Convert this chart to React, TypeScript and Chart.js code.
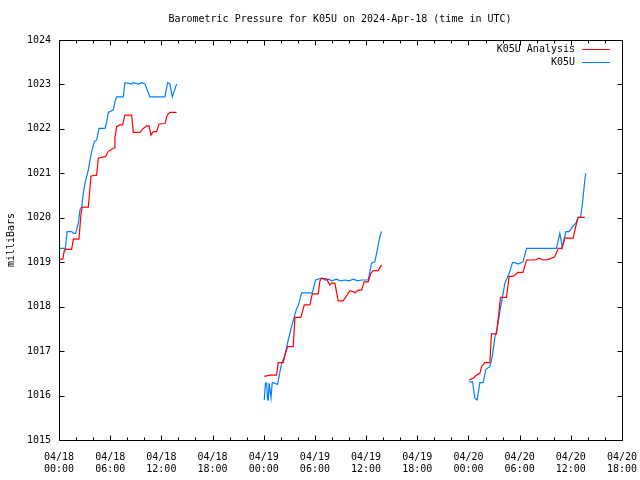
import React, { useEffect, useRef } from "react";
import { Chart, registerables } from "chart.js";

Chart.register(...registerables);

// ---- data (hours since 2024-04-18 00:00 UTC, pressure in mbar) ----
const analysisA_t = [0, 0.45, 0.6, 0.7, 1.48, 1.68, 2.34, 2.5, 2.58, 2.73, 3.44, 3.6, 3.75, 4.41, 4.61, 5.47, 5.78, 6.17, 6.45, 6.56, 6.76, 7.15, 7.46, 7.73, 8.52, 8.71, 9.49, 9.88, 10.27, 10.55, 10.78, 11.05, 11.45, 11.72, 12.42, 12.69, 13.0, 13.79];
const analysisA_p = [1019.07, 1019.07, 1019.25, 1019.29, 1019.29, 1019.52, 1019.52, 1019.9, 1020.09, 1020.24, 1020.24, 1020.6, 1020.94, 1020.96, 1021.34, 1021.38, 1021.49, 1021.54, 1021.57, 1021.79, 1022.05, 1022.09, 1022.09, 1022.31, 1022.31, 1021.92, 1021.92, 1022.01, 1022.07, 1022.07, 1021.86, 1021.94, 1021.94, 1022.11, 1022.12, 1022.31, 1022.37, 1022.37];
const analysisB_t = [24.06, 24.73, 25.51, 25.7, 26.29, 26.49, 26.8, 27.46, 27.66, 28.36, 28.75, 29.41, 29.69, 30.39, 30.59, 30.78, 31.37, 31.76, 31.95, 32.34, 32.73, 33.32, 34.1, 34.49, 34.69, 35.08, 35.47, 35.78, 36.25, 36.56, 36.83, 37.42, 37.81];
const analysisB_p = [1016.43, 1016.46, 1016.46, 1016.74, 1016.74, 1016.91, 1017.1, 1017.1, 1017.76, 1017.76, 1018.04, 1018.04, 1018.29, 1018.29, 1018.58, 1018.64, 1018.62, 1018.49, 1018.53, 1018.53, 1018.13, 1018.13, 1018.36, 1018.34, 1018.31, 1018.37, 1018.37, 1018.56, 1018.56, 1018.75, 1018.81, 1018.81, 1018.94];
const analysisC_t = [48.09, 48.55, 48.95, 49.34, 49.53, 49.92, 50.51, 50.7, 51.29, 51.76, 52.46, 52.77, 53.24, 53.82, 54.4, 54.8, 55.78, 56.29, 56.76, 57.34, 58.13, 58.52, 58.91, 59.3, 60.27, 60.59, 60.86, 61.64];
const analysisC_p = [1016.35, 1016.39, 1016.46, 1016.5, 1016.65, 1016.74, 1016.74, 1017.39, 1017.39, 1018.21, 1018.21, 1018.68, 1018.68, 1018.77, 1018.77, 1019.05, 1019.05, 1019.09, 1019.05, 1019.06, 1019.12, 1019.31, 1019.31, 1019.54, 1019.54, 1019.82, 1020.01, 1020.01];

const obsA_t = [0, 0.75, 0.95, 1.5, 1.7, 1.95, 2.27, 2.46, 2.66, 2.85, 3.05, 3.44, 3.63, 3.83, 4.14, 4.41, 4.69, 5.39, 5.59, 5.78, 6.37, 6.56, 6.76, 7.54, 7.73, 8.52, 8.71, 9.3, 9.69, 10.08, 10.66, 12.42, 12.73, 13.0, 13.28, 13.79];
const obsA_p = [1019.31, 1019.31, 1019.69, 1019.69, 1019.65, 1019.65, 1019.88, 1020.18, 1020.25, 1020.55, 1020.78, 1021.08, 1021.3, 1021.49, 1021.71, 1021.75, 1022.01, 1022.01, 1022.16, 1022.37, 1022.43, 1022.61, 1022.72, 1022.72, 1023.04, 1023.01, 1023.04, 1023.01, 1023.04, 1023.01, 1022.72, 1022.72, 1023.04, 1023.01, 1022.72, 1023.01];
const obsB_t = [24.06, 24.2, 24.34, 24.45, 24.53, 24.63, 24.73, 24.85, 25.0, 25.12, 25.63, 25.9, 26.1, 26.49, 26.87, 27.26, 27.58, 27.85, 28.05, 28.44, 29.69, 30.08, 30.78, 31.2, 31.6, 32.0, 32.5, 33.0, 33.5, 34.0, 34.5, 35.0, 35.5, 36.0, 36.25, 36.64, 37.03, 37.23, 37.42, 37.62, 37.81];
const obsB_p = [1015.9, 1016.28, 1016.28, 1015.9, 1015.9, 1016.28, 1016.28, 1015.95, 1016.29, 1016.29, 1016.25, 1016.54, 1016.72, 1016.91, 1017.25, 1017.55, 1017.77, 1017.96, 1018.02, 1018.31, 1018.31, 1018.6, 1018.64, 1018.6, 1018.62, 1018.58, 1018.62, 1018.58, 1018.6, 1018.58, 1018.62, 1018.58, 1018.6, 1018.6, 1018.6, 1018.98, 1019.01, 1019.2, 1019.39, 1019.58, 1019.69];
const obsC_t = [48.09, 48.48, 48.75, 49.02, 49.34, 49.73, 50.04, 50.51, 50.82, 51.1, 51.37, 51.68, 51.99, 52.27, 52.53, 52.85, 53.16, 53.43, 53.82, 54.4, 54.8, 58.32, 58.71, 59.02, 59.41, 59.8, 60.2, 60.59, 60.86, 61.14, 61.37, 61.64, 61.76];
const obsC_p = [1016.31, 1016.31, 1015.94, 1015.9, 1016.29, 1016.29, 1016.59, 1016.65, 1016.91, 1017.32, 1017.51, 1017.89, 1018.22, 1018.53, 1018.64, 1018.79, 1018.99, 1018.99, 1018.96, 1019.01, 1019.31, 1019.31, 1019.65, 1019.33, 1019.69, 1019.69, 1019.8, 1019.88, 1020.01, 1020.01, 1020.33, 1020.85, 1021.0];

const xTickDates = ["04/18", "04/18", "04/18", "04/18", "04/19", "04/19", "04/19", "04/19", "04/20", "04/20", "04/20", "04/20"];
const xTickTimes = ["00:00", "06:00", "12:00", "18:00", "00:00", "06:00", "12:00", "18:00", "00:00", "06:00", "12:00", "18:00"];

const TITLE = "Barometric Pressure for K05U on 2024-Apr-18 (time in UTC)";
const Y_TITLE = "milliBars";
const SERIES_NAMES = ["K05U Analysis", "K05U"];
const SERIES_COLORS = ["#ff0000", "#0080ff"];
const FONT = "DejaVu Sans Mono";

function buildSeries(segs: [number[], number[]][]) {
  const out: { x: number; y: number | null }[] = [];
  segs.forEach(([t, p], i) => {
    if (i > 0) out.push({ x: (t[0] + out[out.length - 1].x) / 2, y: null });
    t.forEach((v, j) => out.push({ x: v, y: p[j] }));
  });
  return out;
}

const framePlugin = {
  id: "gnuframe",
  afterDraw(chart: any) {
    const ctx = chart.ctx;
    const { left, right, top, bottom } = chart.chartArea;
    const xs = chart.scales.x;
    const ys = chart.scales.y;
    ctx.save();
    ctx.strokeStyle = "#000";
    ctx.lineWidth = 1;
    const L = Math.round(left) + 0.5, R = Math.round(right) + 0.5;
    const T = Math.round(top) + 0.5, B = Math.round(bottom) + 0.5;
    ctx.beginPath();
    ctx.rect(L, T, R - L, B - T);
    for (let h = 0; h <= 66; h += 2) {
      const px = Math.round(xs.getPixelForValue(h)) + 0.5;
      const len = h % 6 === 0 ? 5 : 3;
      ctx.moveTo(px, B); ctx.lineTo(px, B - len);
      ctx.moveTo(px, T); ctx.lineTo(px, T + len);
    }
    for (let v = 1015; v <= 1024; v++) {
      const py = Math.round(ys.getPixelForValue(v)) + 0.5;
      ctx.moveTo(L, py); ctx.lineTo(L + 5, py);
      ctx.moveTo(R, py); ctx.lineTo(R - 5, py);
    }
    ctx.stroke();

    ctx.fillStyle = "#000";
    ctx.font = `10px "${FONT}"`;
    ctx.textBaseline = "middle";
    ctx.textAlign = "center";
    ctx.fillText(TITLE, 340, 19);

    ctx.save();
    ctx.translate(11, 240);
    ctx.rotate(-Math.PI / 2);
    ctx.fillText(Y_TITLE, 0, 0);
    ctx.restore();

    ctx.textAlign = "right";
    chart.data.datasets.forEach((ds: any, i: number) => {
      const y = 49 + i * 13;
      ctx.fillStyle = "#000";
      ctx.fillText(ds.label, 575, y);
      ctx.strokeStyle = SERIES_COLORS[i];
      ctx.lineWidth = 1;
      ctx.beginPath();
      ctx.moveTo(582, Math.round(y) + 0.5);
      ctx.lineTo(610, Math.round(y) + 0.5);
      ctx.stroke();
    });
    ctx.restore();
  },
};

export default function App() {
  const ref = useRef<HTMLCanvasElement | null>(null);
  useEffect(() => {
    document.body.style.margin = "0";
    const chart = new Chart(ref.current as HTMLCanvasElement, {
      type: "line",
      data: {
        datasets: [
          {
            label: SERIES_NAMES[0],
            data: buildSeries([[analysisA_t, analysisA_p], [analysisB_t, analysisB_p], [analysisC_t, analysisC_p]]) as any,
            borderColor: SERIES_COLORS[0],
            borderWidth: 1.2,
            pointRadius: 0,
            spanGaps: false,
            tension: 0,
          },
          {
            label: SERIES_NAMES[1],
            data: buildSeries([[obsA_t, obsA_p], [obsB_t, obsB_p], [obsC_t, obsC_p]]) as any,
            borderColor: SERIES_COLORS[1],
            borderWidth: 1.2,
            pointRadius: 0,
            spanGaps: false,
            tension: 0,
          },
        ],
      },
      options: {
        animation: false,
        responsive: false,
        layout: { padding: { left: 0, right: 18, top: 40, bottom: 0 } },
        plugins: { legend: { display: false }, title: { display: false }, tooltip: { enabled: false } },
        scales: {
          x: {
            type: "linear",
            min: 0,
            max: 66,
            grid: { display: false, drawTicks: false },
            border: { display: false },
            afterFit: (s: any) => { s.height = 40; s.paddingLeft = 0; s.paddingRight = 0; },
            afterBuildTicks: (s: any) => {
              s.ticks = xTickDates.map((_, i) => ({ value: i * 6 }));
            },
            ticks: {
              autoSkip: false,
              maxRotation: 0,
              padding: 11,
              color: "#000",
              font: { family: FONT, size: 10, lineHeight: 1.2 },
              callback: (v: any) => {
                const i = Math.round(Number(v) / 6);
                return [xTickDates[i], xTickTimes[i]];
              },
            },
          },
          y: {
            min: 1015,
            max: 1024,
            grid: { display: false, drawTicks: false },
            border: { display: false },
            afterFit: (s: any) => { s.width = 59; s.paddingTop = 0; s.paddingBottom = 0; },
            ticks: {
              stepSize: 1,
              padding: 8,
              color: "#000",
              font: { family: FONT, size: 10 },
              callback: (v: any) => String(v),
            },
          },
        },
      },
      plugins: [framePlugin],
    });
    return () => chart.destroy();
  }, []);
  return (
    <div style={{ position: "fixed", left: 0, top: 0, width: 640, height: 480, background: "#fff" }}>
      <canvas ref={ref} width={640} height={480} style={{ width: 640, height: 480, display: "block" }} />
    </div>
  );
}
